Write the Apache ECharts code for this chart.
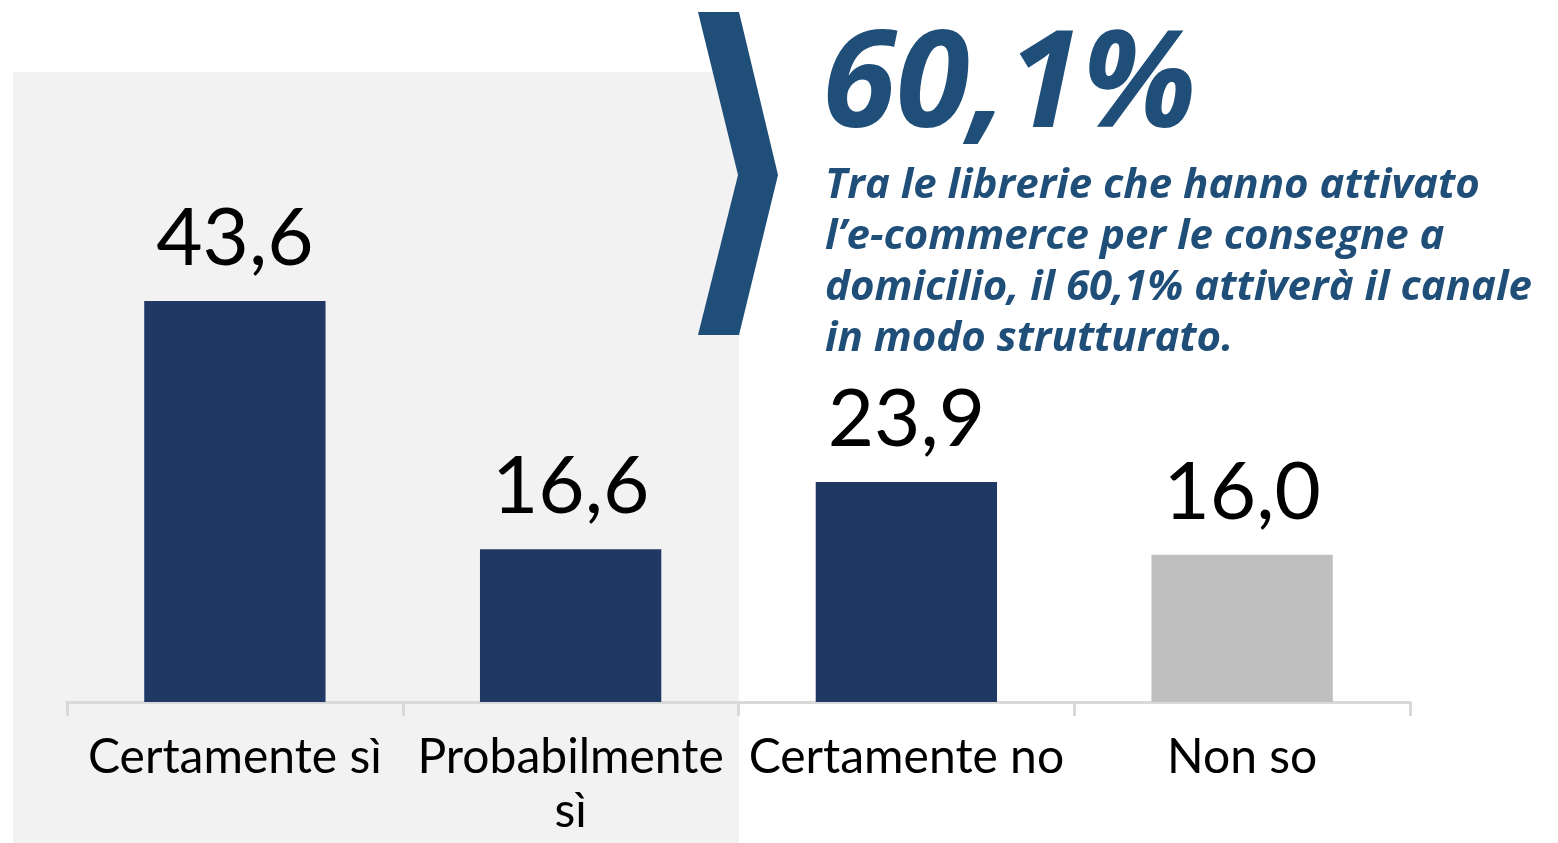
<!DOCTYPE html>
<html>
<head>
<meta charset="utf-8">
<script src="https://cdn.jsdelivr.net/npm/echarts@6/dist/echarts.min.js"></script>
<style>
html, body { margin: 0; padding: 0; background: #fff; }
#chart { width: 1558px; height: 843px; }
</style>
</head>
<body>
<div id="chart"></div>
<script>
var categories = ['Certamente sì', 'Probabilmente\nsì', 'Certamente no', 'Non so'];
var values = [43.6, 16.6, 23.9, 16.0];
var barColors = ['#203864', '#203864', '#203864', '#BFBFBF'];
var highlight = '60,1%';
var noteLines = [
    'Tra le librerie che hanno attivato',
    'l\u2019e-commerce per le consegne a',
    'domicilio, il 60,1% attiverà il canale',
    'in modo strutturato.'
];

var font = 'Lato, "DejaVu Sans", sans-serif';
var noteFont = '"Open Sans", Lato, sans-serif';
var blue = '#1F4E79';

var chart = echarts.init(document.getElementById('chart'));

var graphics = [
    {
        type: 'rect',
        z: -10,
        shape: { x: 13, y: 72, width: 726, height: 771 },
        style: { fill: '#F2F2F2' }
    },
    {
        type: 'polygon',
        z: 10,
        shape: { points: [[698, 12], [739, 12], [778, 175], [739, 335], [698, 335], [738, 175]] },
        style: { fill: blue }
    },
    {
        type: 'text',
        z: 10,
        x: 822, y: 156,
        style: {
            text: highlight,
            font: 'italic bold 134px ' + noteFont,
            fill: blue,
            verticalAlign: 'bottom'
        }
    }
];
noteLines.forEach(function (line, i) {
    graphics.push({
        type: 'text',
        z: 10,
        x: 825, y: 207 + i * 51,
        style: {
            text: line,
            font: 'italic bold 42px ' + noteFont,
            fill: blue,
            verticalAlign: 'bottom'
        }
    });
});

var option = {
    animation: false,
    graphic: graphics,
    grid: { left: 67, right: 148, top: 242, bottom: 141 },
    xAxis: {
        type: 'category',
        data: categories,
        axisLine: { lineStyle: { color: '#D9D9D9', width: 3 } },
        axisTick: { show: true, length: 14, lineStyle: { color: '#D9D9D9', width: 3 } },
        axisLabel: {
            color: '#000',
            fontSize: 48,
            fontFamily: font,
            margin: 29,
            lineHeight: 54,
            interval: 0
        }
    },
    yAxis: {
        type: 'value',
        min: 0,
        max: 50,
        show: false,
        splitLine: { show: false }
    },
    series: [
        {
            type: 'bar',
            barWidth: '54%',
            data: values.map(function (v, i) {
                return { value: v, itemStyle: { color: barColors[i] } };
            }),
            label: {
                show: true,
                position: 'top',
                distance: 22,
                color: '#000',
                fontSize: 80,
                fontFamily: font,
                formatter: function (p) { return p.value.toFixed(1).replace('.', ','); }
            }
        }
    ]
};
chart.setOption(option);

window.onresize = chart.resize;
</script>
</body>
</html>
